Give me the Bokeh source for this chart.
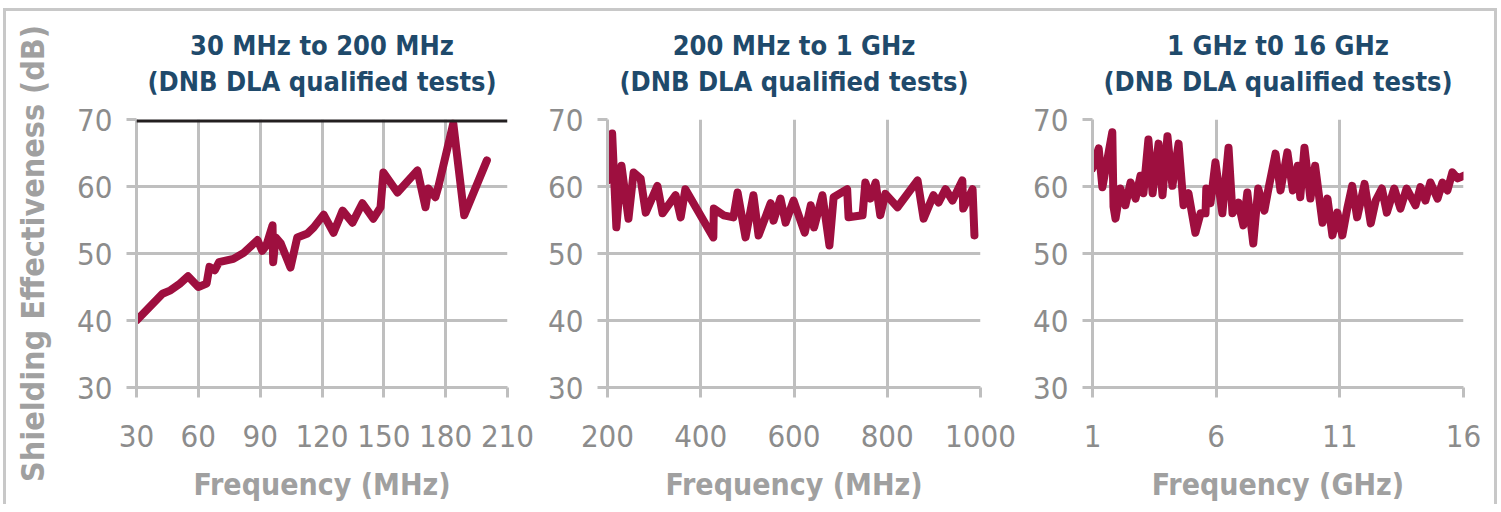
from bokeh.plotting import figure
from bokeh.layouts import row
from bokeh.models import Title, Span, FixedTicker
from bokeh.embed import file_html
from bokeh.resources import INLINE

# ---------------- data ----------------
f1 = [30, 42.6, 46.5, 51, 55, 60, 64, 65.4, 68, 70, 77, 82, 88.7, 91, 93, 96, 96.3, 97.5,
      100, 104.7, 108, 113, 116, 120.8, 125.6, 130, 134.8, 139.6, 144.9, 148.4, 149.8,
      156.6, 166.3, 170.2, 171.6, 175, 176.4, 183.7, 189, 200]
v1 = [40.0, 44.0, 44.5, 45.5, 46.6, 45.0, 45.5, 48.0, 47.5, 48.7, 49.2, 50.1, 52.0, 50.4,
      51.2, 54.2, 48.7, 52.4, 51.5, 47.9, 52.4, 53.0, 53.9, 55.8, 53.1, 56.4, 54.6, 57.5,
      55.2, 56.9, 62.1, 59.1, 62.4, 56.9, 59.7, 58.4, 59.9, 69.4, 55.7, 63.9]

f2 = [200, 210, 219, 230, 245, 256, 271, 282, 307, 318, 346, 357, 367, 427, 428, 449, 470,
      479, 496, 513, 524, 550, 556, 571, 582, 599, 623, 636, 643, 661, 676, 685, 714, 717,
      747, 753, 764, 775, 785, 796, 822, 865, 878, 899, 910, 925, 940, 961, 963, 983, 987]
v2 = [60.9, 67.9, 53.9, 63.1, 55.2, 62.1, 61.2, 56.1, 60.1, 56.0, 58.7, 55.4, 59.6, 52.4,
      56.7, 55.7, 55.4, 59.1, 52.4, 58.7, 52.7, 57.5, 54.9, 58.2, 54.6, 57.9, 53.1, 57.2,
      53.9, 58.7, 51.2, 58.4, 59.6, 55.4, 55.7, 60.6, 58.2, 60.6, 55.7, 58.9, 56.9, 60.9,
      55.2, 58.7, 57.6, 59.6, 57.9, 60.9, 56.7, 59.6, 52.7]

f3 = [1.0, 1.25, 1.4, 1.8, 1.85, 1.93, 2.13, 2.33, 2.54, 2.74, 2.94, 3.06, 3.26, 3.43, 3.67,
      3.83, 4.03, 4.23, 4.48, 4.68, 4.88, 5.16, 5.37, 5.57, 5.6, 5.77, 5.97, 6.25, 6.5, 6.66,
      6.9, 7.1, 7.26, 7.5, 7.7, 7.95, 8.1, 8.4, 8.6, 8.88, 9.1, 9.3, 9.4, 9.57, 9.81, 10.0,
      10.3, 10.5, 10.7, 10.9, 11.1, 11.3, 11.5, 11.7, 12.0, 12.25, 12.45, 12.7, 12.9, 13.2,
      13.45, 13.7, 14.06, 14.26, 14.46, 14.66, 14.95, 15.15, 15.35, 15.55, 15.76, 16.0]
v3 = [62.7, 65.7, 59.9, 68.1, 57.0, 55.2, 59.7, 57.2, 60.6, 58.2, 61.6, 59.0, 67.0, 59.0,
      66.4, 58.7, 67.5, 60.1, 66.4, 57.2, 59.0, 53.1, 56.0, 56.0, 59.7, 57.5, 63.6, 56.0,
      65.8, 56.0, 57.6, 54.2, 59.1, 51.5, 59.7, 56.4, 59.4, 64.9, 59.4, 65.1, 59.4, 63.1,
      58.4, 65.8, 58.2, 63.1, 54.6, 58.2, 52.7, 56.1, 52.7, 56.7, 60.1, 55.4, 60.4, 54.5,
      57.9, 59.7, 56.1, 59.7, 56.7, 59.7, 57.2, 59.9, 57.9, 60.6, 58.2, 60.6, 59.4, 62.1,
      61.2, 61.6]

yticks = [30, 40, 50, 60, 70]
xticks1 = [30, 60, 90, 120, 150, 180, 210]
xticks2 = [200, 400, 600, 800, 1000]
xticks3 = [1, 6, 11, 16]

titles1 = ["30 MHz to 200 MHz", "200 MHz to 1 GHz", "1 GHz t0 16 GHz"]
title2 = "(DNB DLA qualified tests)"
xlabels = ["Frequency (MHz)", "Frequency (MHz)", "Frequency (GHz)"]
ylabel = "Shielding Effectiveness (dB)"

# ---------------- style ----------------
NARROW = "'DejaVu Sans Condensed', 'DejaVu Sans', sans-serif"
GRID = "#BFBFBF"
LINE = "#9E0F3F"
TITLE_C = "#1F4A6B"
TICK_C = "#8C8C8C"
LABEL_C = "#A0A0A0"


def make(f, v, xr, xt, t1, xl, bl, br, fw, ylab=None, black_top=False):
    p = figure(frame_width=fw, frame_height=268, x_range=xr, y_range=(30, 70),
               min_border_left=bl, min_border_right=br, min_border_top=108,
               min_border_bottom=5, output_backend="svg", toolbar_location=None)
    p.outline_line_color = None
    p.background_fill_color = "white"
    p.border_fill_color = "white"
    p.xaxis.ticker = FixedTicker(ticks=xt)
    p.yaxis.ticker = FixedTicker(ticks=yticks)
    p.xgrid.ticker = FixedTicker(ticks=xt)
    p.ygrid.ticker = FixedTicker(ticks=yticks)
    for g in (p.xgrid, p.ygrid):
        g.grid_line_color = GRID
        g.grid_line_width = 3
    for ax in (p.xaxis, p.yaxis):
        ax.axis_line_color = GRID
        ax.axis_line_width = 3
        ax.major_tick_line_color = GRID
        ax.major_tick_line_width = 3
        ax.major_tick_out = 10
        ax.major_tick_in = 0
        ax.minor_tick_line_color = None
        ax.major_label_text_font = NARROW
        ax.major_label_text_font_size = "31px"
        ax.major_label_text_color = TICK_C
        ax.axis_label_text_font = NARROW
        ax.axis_label_text_font_style = "bold"
        ax.axis_label_text_font_size = "30px"
        ax.axis_label_text_color = LABEL_C
    p.xaxis.major_label_standoff = 27
    p.yaxis.major_label_standoff = 14
    p.xaxis.axis_label = xl
    p.xaxis.axis_label_standoff = 17
    if ylab:
        p.yaxis.axis_label = ylab
        p.yaxis.axis_label_text_font_size = "32px"
        p.yaxis.axis_label_standoff = 22
    if black_top:
        p.add_layout(Span(location=70, dimension="width", line_color="#231F20", line_width=6))
    p.line(f, v, line_color=LINE, line_width=8, line_join="round", line_cap="round")
    p.add_layout(Title(text=title2, align="center", text_font=NARROW, text_font_size="27px",
                       text_font_style="bold", text_color=TITLE_C, standoff=46), "above")
    p.add_layout(Title(text=t1, align="center", text_font=NARROW, text_font_size="27px",
                       text_font_style="bold", text_color=TITLE_C, standoff=-40), "above")
    return p


p1 = make(f1, v1, (30, 210), xticks1, titles1[0], xlabels[0], 130, 38, 371, ylab=ylabel, black_top=True)
p2 = make(f2, v2, (200, 1000), xticks2, titles1[1], xlabels[1], 62, 50, 373)
p3 = make(f3, v3, (1, 16), xticks3, titles1[2], xlabels[2], 62, 31, 371)

layout = row(p1, p2, p3, styles={"border-top": "3px solid #C8C8C8",
                                  "border-left": "3px solid #C8C8C8",
                                  "border-right": "3px solid #C8C8C8",
                                  "margin-left": "3px",
                                  "margin-top": "8px"})
open("out.html", "w").write(file_html(layout, INLINE))
